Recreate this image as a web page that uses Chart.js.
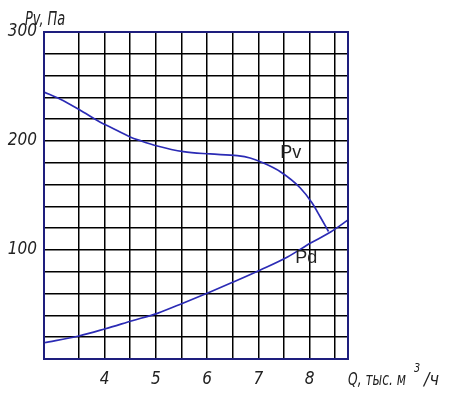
<!DOCTYPE html>
<html>
<head>
<meta charset="utf-8">
<script src="https://cdn.jsdelivr.net/npm/chart.js@4"></script>
<style>
  body { margin: 0; background: #fff; }
  #wrap { width: 452px; height: 394px; }
</style>
</head>
<body>
<div id="wrap"><canvas id="chart" width="452" height="394"></canvas></div>
<script>
// Pv curve (static pressure)
const qPv = [2.82, 3.13, 3.52, 3.91, 4.11, 4.50, 4.70, 5.03, 5.54, 6.06, 6.59, 6.84, 7.10, 7.43, 7.82, 8.05, 8.21, 8.37];
const pv  = [245, 238.5, 228.4, 217.4, 212.8, 203.7, 200.3, 195.4, 190.2, 188.1, 186.5, 184.4, 179.8, 171.8, 156.9, 143.1, 130.3, 117];

// Pd curve (dynamic pressure)
const qPd = [2.82, 3.50, 4.00, 4.54, 5.03, 5.54, 6.06, 6.51, 7.04, 7.57, 8.02, 8.41, 8.75];
const pd  = [14.9, 21.1, 27.5, 35.1, 41.9, 51.4, 61.5, 70.6, 81.7, 93.6, 106.4, 116.5, 127.5];

const xGrid = [3.5, 4, 4.5, 5, 5.5, 6, 6.5, 7, 7.5, 8, 8.5];
const yLabels = [100, 200, 300];

const curveColor = '#2b2bb5';
const frameColor = '#1e1e7e';
const labelFont = { family: '"DejaVu Sans Condensed", "Liberation Sans", sans-serif', size: 17, style: 'italic', weight: 'normal' };

const toPoints = (xs, ys) => xs.map((x, i) => ({ x: x, y: ys[i] }));

// narrow italic text, squeezed sideways like a drafting font
function narrowText(ctx, text, x, y, size, sx) {
    ctx.save();
    ctx.translate(x, y);
    ctx.scale(sx, 1);
    ctx.font = 'italic ' + size + 'px "DejaVu Sans", sans-serif';
    ctx.fillText(text, 0, 0);
    const w = ctx.measureText(text).width * sx;
    ctx.restore();
    return w;
}

const extras = {
    id: 'extras',
    afterDraw(chart) {
        const ctx = chart.ctx;
        const a = chart.chartArea;
        const xs = chart.scales.x, ys = chart.scales.y;
        ctx.save();
        ctx.strokeStyle = frameColor;
        ctx.lineWidth = 2;
        ctx.strokeRect(a.left, a.top, a.right - a.left, a.bottom - a.top);

        ctx.fillStyle = '#222';
        ctx.textBaseline = 'alphabetic';
        narrowText(ctx, 'Pv, Па', a.left - 19, a.top - 7, 19, 0.68);
        let w = narrowText(ctx, 'Q, тыс. м', a.right, a.bottom + 26, 18, 0.68);
        narrowText(ctx, '3', a.right + w + 8, a.bottom + 13, 13, 0.75);
        narrowText(ctx, '/ч', a.right + w + 18, a.bottom + 26, 18, 0.9);

        ctx.font = '18px "Liberation Sans", Arial, sans-serif';
        ctx.fillText('Pv', xs.getPixelForValue(7.43), ys.getPixelForValue(184));
        ctx.fillText('Pd', xs.getPixelForValue(7.72), ys.getPixelForValue(88));
        ctx.restore();
    }
};

new Chart(document.getElementById('chart'), {
    type: 'scatter',
    data: {
        datasets: [
            { data: toPoints(qPv, pv), showLine: true, borderColor: curveColor, borderWidth: 1.7, pointRadius: 0, cubicInterpolationMode: 'monotone' },
            { data: toPoints(qPd, pd), showLine: true, borderColor: curveColor, borderWidth: 1.7, pointRadius: 0, cubicInterpolationMode: 'monotone' }
        ]
    },
    options: {
        responsive: false,
        animation: false,
        layout: { padding: { top: 32, right: 104, left: 0, bottom: 0 } },
        plugins: { legend: { display: false }, tooltip: { enabled: false } },
        scales: {
            x: {
                type: 'linear',
                min: 2.82,
                max: 8.75,
                afterBuildTicks: s => { s.ticks = xGrid.map(v => ({ value: v })); },
                afterFit: s => { s.height = 35; },
                grid: { color: '#000', lineWidth: 1.5, drawTicks: false },
                border: { display: false },
                ticks: {
                    padding: 10,
                    color: '#222',
                    font: labelFont,
                    maxRotation: 0,
                    autoSkip: false,
                    callback: v => Number.isInteger(v) ? String(v) : ''
                }
            },
            y: {
                min: 0,
                max: 300,
                afterFit: s => { s.width = 44; },
                grid: { color: '#000', lineWidth: 1.5, drawTicks: false },
                border: { display: false },
                ticks: {
                    stepSize: 20,
                    padding: 7,
                    color: '#222',
                    font: labelFont,
                    autoSkip: false,
                    callback: v => yLabels.includes(v) ? String(v) : ''
                }
            }
        }
    },
    plugins: [extras]
});
</script>
</body>
</html>
